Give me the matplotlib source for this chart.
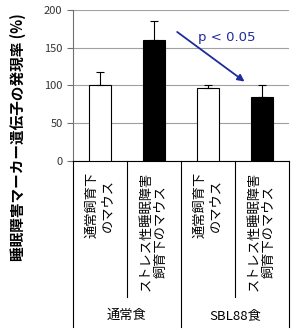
import numpy as np
import matplotlib.pyplot as plt
import matplotlib.transforms as mtransforms

plt.rcParams['font.family'] = ['Noto Sans CJK JP', 'DejaVu Sans']

labels = ['通常飼育下\nのマウス', 'ストレス性睡眠障害\n飼育下のマウス',
          '通常飼育下\nのマウス', 'ストレス性睡眠障害\n飼育下のマウス']
values = [100, 160, 97, 85]
errors = [18, 25, 4, 15]
colors = ['white', 'black', 'white', 'black']
groups = ['通常食', 'SBL88食']

fig = plt.figure(figsize=(3, 3.3), dpi=100)
ax = fig.add_axes([0.243, 0.512, 0.72, 0.458])

x = np.arange(len(values))
ax.bar(x, values, width=0.4, color=colors, edgecolor='black', linewidth=0.8, zorder=3)
ax.errorbar(x, values, yerr=[np.zeros(len(errors)), errors], fmt='none',
            ecolor='black', elinewidth=0.8, capsize=3, capthick=0.8, zorder=4)

ax.set_xlim(-0.5, 3.5)
ax.set_ylim(0, 200)
ax.set_yticks([0, 50, 100, 150, 200])
ax.yaxis.grid(True, color='#a0a0a0', linewidth=0.8, zorder=0)
ax.set_axisbelow(True)
for s in ['top', 'right']:
    ax.spines[s].set_visible(False)
ax.spines['left'].set_color('#707070')
ax.spines['bottom'].set_color('black')
ax.tick_params(axis='y', labelsize=8, colors='#707070', labelcolor='#333333', length=4)
ax.set_xticks(x)
ax.set_xticklabels(labels, rotation=90, fontsize=9.5, va='top', ha='center',
                   multialignment='center')
ax.tick_params(axis='x', length=0, pad=8)

# separators under the axis
trans = mtransforms.blended_transform_factory(ax.transData, fig.transFigure)
for xs, yb in zip([-0.5, 0.5, 1.5, 2.5, 3.5], [0.009, 0.1, 0.009, 0.1, 0.009]):
    ax.plot([xs, xs], [0.512, yb], color='black', linewidth=0.8,
            transform=trans, clip_on=False)
for xg, g in zip([0.5, 2.5], groups):
    ax.text(xg, 0.045, g, transform=trans, ha='center', va='center', fontsize=9.5)

ax.annotate('', xy=(2.72, 103), xytext=(1.39, 173),
            arrowprops=dict(arrowstyle='-|>', color='#1f2b9c', linewidth=1.3,
                            mutation_scale=10))
ax.text(1.81, 163, 'p < 0.05', color='#1f2b9c', fontsize=9.5, va='center',
        family=['DejaVu Sans'])

fig.text(0.06, 0.585, '睡眠障害マーカー遺伝子の発現率 (%)', rotation=90,
         ha='center', va='center', fontsize=10.5, fontweight='bold')

fig.savefig('out.png')
